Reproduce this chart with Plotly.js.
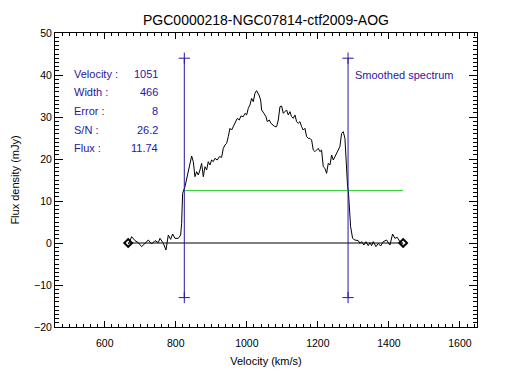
<!DOCTYPE html>
<html>
<head>
<meta charset="utf-8">
<script src="https://cdn.plot.ly/plotly-3.0.1.min.js"></script>
<style>html,body{margin:0;padding:0;background:#fff;}#chart{width:507px;height:383px;}</style>
</head>
<body>
<div id="chart"></div>
<script>
// Smoothed spectrum (velocity km/s, flux density mJy)
const velocity = [666.4, 675.8, 685.2, 694.5, 703.9, 713.3, 722.7, 732.1, 741.5, 750.8,
  755.5, 764.9, 772.4, 779.0, 785.6, 791.2, 797.7, 807.1, 813.7, 816.5, 819.3, 825.9, 830.6,
  838.1, 844.7, 849.3, 854.0, 858.7, 863.4, 868.1, 872.8, 877.5, 882.2, 886.9, 891.5, 896.2,
  900.9, 905.6, 910.3, 916.9, 922.5, 929.1, 933.8, 938.5, 943.2, 947.8, 952.5, 957.2, 961.9,
  969.4, 973.2, 978.8, 983.5, 990.1, 994.8, 999.5, 1004.1, 1008.8, 1013.5, 1018.2, 1022.9,
  1027.6, 1034.2, 1038.9, 1041.7, 1048.2, 1053.9, 1057.6, 1063.2, 1067.9, 1074.5, 1079.2,
  1083.9, 1088.6, 1093.3, 1098.0, 1102.6, 1107.3, 1112.0, 1116.7, 1121.4, 1126.1, 1130.8,
  1135.5, 1140.2, 1144.8, 1149.6, 1154.2, 1158.9, 1163.6, 1168.3, 1173.0, 1177.7, 1182.4,
  1187.1, 1191.8, 1196.5, 1201.1, 1205.8, 1210.5, 1215.2, 1219.9, 1224.6, 1229.3, 1234.0,
  1238.7, 1243.4, 1248.1, 1252.7, 1257.4, 1262.1, 1266.8, 1271.5, 1276.2, 1280.9, 1283.7,
  1285.6, 1288.4, 1292.2, 1297.8, 1304.4, 1313.7, 1318.4, 1323.1, 1329.7, 1335.3, 1341.9,
  1346.6, 1351.3, 1356.0, 1363.5, 1370.0, 1376.6, 1384.1, 1393.5, 1402.9, 1410.4, 1416.9,
  1423.5, 1431.0, 1440.4];
const flux = [-0.3, 1.5, 0.56, 0.08, -0.87, -0.08, 0.71, -0.24, 0.56, 0.08,
  1.11, -0.08, -1.67, 1.90, 0.87, 2.14, 1.11, 1.11, 1.90, 4.68, 11.83, 13.41, 15.40,
  18.17, 20.71, 19.37, 15.79, 16.98, 16.19, 17.38, 18.97, 15.79, 18.17, 17.38, 19.37, 18.57,
  19.76, 19.37, 20.16, 19.76, 20.56, 20.40, 22.54, 23.33, 23.73, 25.32, 27.30, 26.90, 27.70,
  28.89, 29.68, 29.29, 30.24, 30.08, 30.87, 30.48, 32.06, 32.86, 34.44, 33.65, 35.64,
  36.27, 35.24, 34.05, 31.67, 30.87, 30.08, 28.89, 29.29, 28.49, 28.10, 27.70,
  27.70, 29.29, 32.46, 32.62, 30.87, 31.27, 31.67, 30.48, 31.27, 30.08, 29.68,
  30.48, 28.89, 28.49, 28.89, 27.70, 26.90, 27.30, 25.32, 24.92, 24.92, 24.52,
  22.14, 21.75, 22.14, 22.54, 21.75, 22.14, 18.17, 17.78, 16.59, 18.97, 18.57,
  20.95, 19.76, 20.56, 20.95, 22.14, 22.94, 26.11, 26.51, 24.92, 16.59, 13.41,
  12.62, 9.44, 3.89, 1.11, 0.71, 0.56, -0.08, 0.32, -0.48, 0.32, -0.63,
  0.08, -0.63, 0.32, -0.87, -0.08, -0.71, 0.32, 0.71, -0.48, 2.14, 1.11,
  1.35, 0.32, -0.40];

// Baseline (zero level) end points
const baseVel = [666, 1440];
const baseFlux = [0, 0];
// Line-width limits
const widthVelLow = 824;
const widthVelHigh = 1285;
const limitFlux = [44, -13];
// 50% level line
const halfVel = [824, 1440];
const halfFlux = [12.5, 12.5];

// Stats text
const statLabels = ['Velocity :', 'Width :', 'Error :', 'S/N :', 'Flux :'];
const statValues = ['1051', '466', '8', '26.2', '11.74'];
const legendText = 'Smoothed spectrum';
const titleText = 'PGC0000218-NGC07814-ctf2009-AOG';

const blue = '#2a16a0';
const font = 'Liberation Sans, Arial, sans-serif';

const traces = [
  {x: velocity, y: flux, type: 'scatter', mode: 'lines', line: {color: '#000', width: 1}, hoverinfo: 'skip'},
  {x: halfVel, y: halfFlux, type: 'scatter', mode: 'lines', line: {color: '#3cd43c', width: 1}},
  {x: baseVel, y: baseFlux, type: 'scatter', mode: 'lines+markers', line: {color: '#000', width: 1},
   marker: {symbol: 'diamond-open', size: 6, color: '#000', line: {width: 2, color: '#000'}}},
  {x: [widthVelLow, widthVelLow], y: limitFlux, type: 'scatter', mode: 'lines+markers', line: {color: blue, width: 1},
   marker: {symbol: 'cross-thin', size: 8, line: {width: 1, color: blue}}},
  {x: [widthVelHigh, widthVelHigh], y: limitFlux, type: 'scatter', mode: 'lines+markers', line: {color: blue, width: 1},
   marker: {symbol: 'cross-thin', size: 8, line: {width: 1, color: blue}}}
];

const labelY = [0.8595, 0.7983, 0.7337, 0.6701, 0.6078];
const annotations = [];
statLabels.forEach((t, i) => {
  annotations.push({text: t, xref: 'paper', yref: 'paper', x: 0.0403, y: labelY[i], xanchor: 'left', yanchor: 'middle',
    showarrow: false, font: {family: font, size: 11, color: blue}});
  annotations.push({text: statValues[i], xref: 'paper', yref: 'paper', x: 0.2488, y: labelY[i], xanchor: 'right', yanchor: 'middle',
    showarrow: false, font: {family: font, size: 11, color: blue}});
});
annotations.push({text: legendText, xref: 'paper', yref: 'paper', x: 0.7069, y: 0.857, xanchor: 'left', yanchor: 'middle',
  showarrow: false, font: {family: font, size: 11, color: blue}});

const layout = {
  width: 507, height: 383,
  margin: {l: 55, r: 30, t: 33, b: 56, pad: 0},
  paper_bgcolor: '#fff', plot_bgcolor: '#fff',
  showlegend: false,
  font: {family: font, size: 11, color: '#000'},
  title: {text: titleText, font: {family: font, size: 14, color: '#000'}, x: 0.5, xref: 'paper', xanchor: 'center',
    y: 0.948, yref: 'container', yanchor: 'middle'},
  xaxis: {range: [460, 1648], showgrid: false, zeroline: false, showline: true, linecolor: '#000', linewidth: 1,
    mirror: 'ticks', ticks: 'inside', ticklen: 6, tickcolor: '#000', tickwidth: 1, dtick: 200, tick0: 0,
    ticklabelstandoff: 6,
    tickfont: {family: font, size: 10.5, color: '#000'},
    minor: {dtick: 20, ticks: 'inside', ticklen: 3, tickcolor: '#000', tickwidth: 1, showgrid: false},
    title: {text: 'Velocity (km/s)', font: {family: font, size: 11, color: '#000'}, standoff: 9}, automargin: false},
  yaxis: {range: [-20, 50], showgrid: false, zeroline: false, showline: true, linecolor: '#000', linewidth: 1,
    mirror: 'ticks', ticks: 'inside', ticklen: 8, tickcolor: '#000', tickwidth: 1, dtick: 10, tick0: 0,
    tickfont: {family: font, size: 10.5, color: '#000'},
    minor: {dtick: 1, ticks: 'inside', ticklen: 4, tickcolor: '#000', tickwidth: 1, showgrid: false},
    title: {text: 'Flux density (mJy)', font: {family: font, size: 11, color: '#000'}, standoff: 12}, automargin: false},
  annotations: annotations
};

Plotly.newPlot('chart', traces, layout, {displayModeBar: false, staticPlot: true});
</script>
</body>
</html>
